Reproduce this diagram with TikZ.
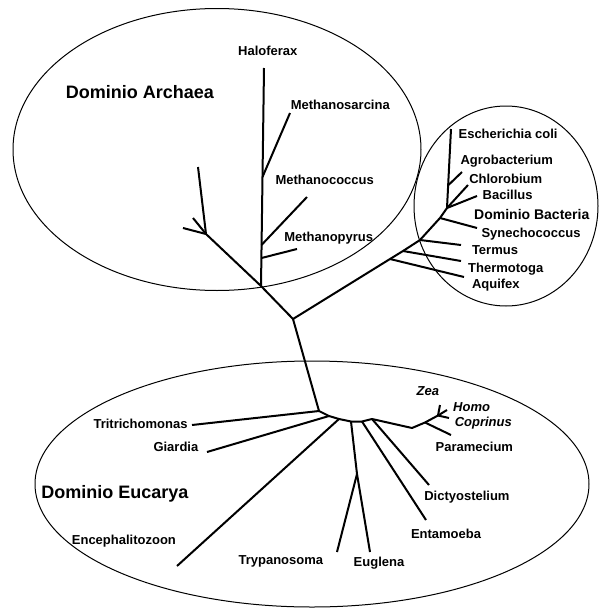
\documentclass[tikz,border=0pt]{standalone}
\usepackage{fontspec}
\setmainfont{Liberation Sans}
\begin{document}
\begin{tikzpicture}[x=1pt,y=-1pt,
  branch/.style={line width=2pt, line join=round},
  domainline/.style={line width=1pt},
  taxon/.style={anchor=west, inner sep=0pt, font=\fontsize{13}{15}\selectfont\bfseries, text height=9.3pt, text depth=0pt},
  itaxon/.style={taxon, font=\fontsize{13}{15}\selectfont\bfseries\itshape},
  domainname/.style={anchor=west, inner sep=0pt, font=\fontsize{18}{21}\selectfont\bfseries, text height=12.9pt, text depth=0pt},
  bactname/.style={anchor=west, inner sep=0pt, font=\fontsize{14}{16}\selectfont\bfseries, text height=10pt, text depth=0pt}]
\useasboundingbox (0,0) rectangle (598,608);

% domain outlines
\draw[domainline] (217,149.5) ellipse [x radius=204pt, y radius=141pt];
\draw[domainline] (506,206) ellipse [x radius=92pt, y radius=100pt];
\draw[domainline] (312,484) ellipse [x radius=277pt, y radius=123pt];

% ---------- branch points and tips ----------
\coordinate (C) at (293,319);
% Archaea
\coordinate (A0) at (261,286);
\coordinate (Hal) at (264,68);
\coordinate (MsB) at (262.5,177);  \coordinate (MsT) at (290,113);
\coordinate (McB) at (261.5,245);  \coordinate (McT) at (307,197);
\coordinate (MpB) at (261.5,258);  \coordinate (MpT) at (297,249);
\coordinate (L1) at (206,234);
\coordinate (L1up) at (198,167);
\coordinate (L1left) at (183,228);
\coordinate (L1small) at (193,218);
% Bacteria
\coordinate (Baq) at (390,259);   \coordinate (Taq) at (464,277);
\coordinate (Bth) at (403,251);   \coordinate (Tth) at (461,261);
\coordinate (Bte) at (420,240);   \coordinate (Tte) at (461,245);
\coordinate (Bsy) at (440,218);   \coordinate (Tsy) at (477,228);
\coordinate (B1) at (447,208);
\coordinate (Eco) at (451,129);
\coordinate (Bag) at (448.5,185); \coordinate (Tag) at (462,172);
\coordinate (Tch) at (468,185);
\coordinate (Tba) at (477,196);
% Eucarya
\coordinate (E0) at (319,411);
\coordinate (e1) at (329,416);
\coordinate (e2) at (339,419);
\coordinate (e3) at (351,421.5);
\coordinate (e4) at (362,421.5);
\coordinate (e5) at (372,419);
\coordinate (e6) at (412,428);
\coordinate (H) at (425,422.5);
\coordinate (Y) at (438,415.5);
\coordinate (Ttr) at (192,425);
\coordinate (Tgi) at (207,452);
\coordinate (Ten) at (177,566);
\coordinate (S) at (357,474);
\coordinate (Tty) at (337,552);
\coordinate (Teu) at (370,552);
\coordinate (Tem) at (426,520);
\coordinate (Tdi) at (429,485);
\coordinate (Tpa) at (451,435);
\coordinate (Y1) at (440,405);
\coordinate (Y2) at (447,410);
\coordinate (Y3) at (449,418);

% ---------- tree ----------
% Archaea
\draw[branch] (C) -- (A0) -- (Hal);
\draw[branch] (MsB) -- (MsT);
\draw[branch] (McB) -- (McT);
\draw[branch] (MpB) -- (MpT);
\draw[branch] (A0) -- (L1) -- (L1up);
\draw[branch] (L1) -- (L1left);
\draw[branch] (L1) -- (L1small);
% Bacteria
\draw[branch] (C) -- (Baq) -- (Bth) -- (Bte) -- (Bsy) -- (B1) -- (Eco);
\draw[branch] (Baq) -- (Taq);
\draw[branch] (Bth) -- (Tth);
\draw[branch] (Bte) -- (Tte);
\draw[branch] (Bsy) -- (Tsy);
\draw[branch] (Bag) -- (Tag);
\draw[branch] (B1) -- (Tch);
\draw[branch] (B1) -- (Tba);
% Eucarya
\draw[branch] (C) -- (E0) -- (e1) -- (e2) -- (e3) -- (e4) -- (e5) -- (e6) -- (H) -- (Y);
\draw[branch] (E0) -- (Ttr);
\draw[branch] (e1) -- (Tgi);
\draw[branch] (e2) -- (Ten);
\draw[branch] (e3) -- (S) -- (Tty);
\draw[branch] (S) -- (Teu);
\draw[branch] (e4) -- (Tem);
\draw[branch] (e5) -- (Tdi);
\draw[branch] (H) -- (Tpa);
\draw[branch] (Y) -- (Y1);
\draw[branch] (Y) -- (Y2);
\draw[branch] (Y) -- (Y3);

% ---------- labels ----------
\node[domainname] (dArc) at (65.6,91.9) {Dominio Archaea};
\node[taxon] (nHal) at (238,50.4) {Haloferax};
\node[taxon] (nMs) at (290.6,105) {Methanosarcina};
\node[taxon] (nMc) at (275.4,179.5) {Methanococcus};
\node[taxon] (nMp) at (284.1,236.5) {Methanopyrus};

\node[taxon] (nEc) at (458.4,133.8) {Escherichia coli};
\node[taxon] (nAg) at (460.3,159.4) {Agrobacterium};
\node[taxon] (nCh) at (469.1,178.4) {Chlorobium};
\node[taxon] (nBa) at (482.5,195) {Bacillus};
\node[bactname] (dBac) at (474,214) {Dominio Bacteria};
\node[taxon] (nSy) at (481.3,233) {Synechococcus};
\node[taxon] (nTe) at (471.8,250) {Termus};
\node[taxon] (nTh) at (468,267.5) {Thermotoga};
\node[taxon] (nAq) at (471.8,284.2) {Aquifex};

\node[itaxon] (nZe) at (416.5,390.5) {Zea};
\node[itaxon] (nHo) at (453,406.4) {Homo};
\node[itaxon] (nCo) at (454.6,421.5) {Coprinus};
\node[taxon] (nPa) at (435.5,447) {Paramecium};
\node[taxon] (nTr) at (93.4,423.4) {Tritrichomonas};
\node[taxon] (nGi) at (153.3,447) {Giardia};
\node[domainname] (dEuc) at (41.2,492.4) {Dominio Eucarya};
\node[taxon] (nEn) at (71.7,540.1) {Encephalitozoon};
\node[taxon] (nTy) at (238.4,559.5) {Trypanosoma};
\node[taxon] (nEu) at (353.5,561.5) {Euglena};
\node[taxon] (nEm) at (410.8,534.3) {Entamoeba};
\node[taxon] (nDi) at (424.1,495.5) {Dictyostelium};
\end{tikzpicture}
\end{document}
